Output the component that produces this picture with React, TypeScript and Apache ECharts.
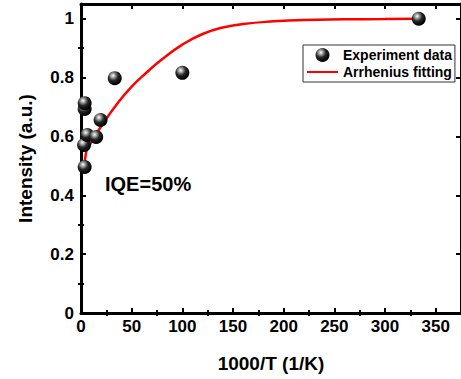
import React, { useEffect, useRef } from "react";
import * as echarts from "echarts";

const expX = [3.6, 3, 6.2, 3.6, 3.6, 15, 19.3, 33.3, 100, 333.3];
const expY = [0.496, 0.571, 0.605, 0.693, 0.713, 0.598, 0.656, 0.798, 0.816, 1.0];

const fitX = [3.4, 5, 10, 20, 35, 50, 65, 80, 100, 120, 140, 160, 190, 220, 260, 300, 333.3];
const fitY = [0.49, 0.545, 0.58, 0.635, 0.708, 0.769, 0.818, 0.862, 0.912, 0.948, 0.97, 0.982, 0.991, 0.996, 0.998, 0.999, 1.0];

const xMajor = [0, 50, 100, 150, 200, 250, 300, 350];
const xMinor = [25, 75, 125, 175, 225, 275, 325];
const yMajor = [0, 0.2, 0.4, 0.6, 0.8, 1];
const yMinor = [0.1, 0.3, 0.5, 0.7, 0.9];

const X_MAX = 375;
const Y_MAX = 1.05;
const FONT = "'Liberation Sans', Arial, sans-serif";

export default function App() {
  const ref = useRef<HTMLDivElement>(null);
  useEffect(() => {
    document.body.style.margin = "0";
    const chart = echarts.init(ref.current!, null, { renderer: "svg" });
    const rect = { left: 81, top: 4, width: 382.5, height: 309 };
    const axisLine = { show: true, onZero: false, lineStyle: { color: "#000", width: 3 } };
    const mkX = (grid: number, pos: string, ticks: number[], len: number, labels: boolean, line: boolean, name?: string) => ({
      type: "value",
      gridIndex: grid,
      position: pos,
      min: 0,
      max: X_MAX,
      axisLine: line ? axisLine : { show: false },
      splitLine: { show: false },
      axisTick: { show: true, inside: true, length: len, customValues: ticks, lineStyle: { color: "#000", width: 2 } },
      axisLabel: labels
        ? { show: true, customValues: ticks, margin: 5, color: "#000", fontSize: 17, fontWeight: "bold", fontFamily: FONT }
        : { show: false },
      name: name,
      nameLocation: "middle",
      nameGap: 41,
      nameTextStyle: { color: "#000", fontSize: 19, fontWeight: "bold", fontFamily: FONT },
    });
    const mkY = (grid: number, pos: string, ticks: number[], len: number, labels: boolean, line: boolean, name?: string) => ({
      type: "value",
      gridIndex: grid,
      position: pos,
      min: 0,
      max: Y_MAX,
      axisLine: line ? axisLine : { show: false },
      splitLine: { show: false },
      axisTick: { show: true, inside: true, length: len, customValues: ticks, lineStyle: { color: "#000", width: 2 } },
      axisLabel: labels
        ? {
            show: true,
            customValues: ticks,
            margin: 7,
            color: "#000",
            fontSize: 17,
            fontWeight: "bold",
            fontFamily: FONT,
            formatter: (v: number) => (v === 0 ? "0" : v === 1 ? "1" : v.toFixed(1)),
          }
        : { show: false },
      name: name,
      nameLocation: "middle",
      nameGap: 46,
      nameRotate: 90,
      nameTextStyle: { color: "#000", fontSize: 19, fontWeight: "bold", fontFamily: FONT },
    });
    const sphere = new echarts.graphic.RadialGradient(0.38, 0.32, 0.65, [
      { offset: 0, color: "#ffffff" },
      { offset: 0.22, color: "#a8a8a8" },
      { offset: 0.55, color: "#282828" },
      { offset: 1, color: "#000000" },
    ]);
    chart.setOption({
      animation: false,
      backgroundColor: "#fff",
      grid: [
        { ...rect, containLabel: false },
        { ...rect, containLabel: false },
      ],
      xAxis: [
        mkX(0, "bottom", xMajor, 5, true, true, "1000/T (1/K)"),
        mkX(0, "top", xMajor, 5, false, true),
        mkX(1, "bottom", xMinor, 3, false, false),
        mkX(1, "top", xMinor, 3, false, false),
      ],
      yAxis: [
        mkY(0, "left", yMajor, 5, true, true, "Intensity (a.u.)"),
        mkY(0, "right", yMajor, 5, false, true),
        mkY(1, "left", yMinor, 3, false, false),
        mkY(1, "right", yMinor, 3, false, false),
      ],
      legend: {
        left: 303,
        top: 45,
        orient: "vertical",
        padding: [3, 3, 3, 3],
        itemGap: 3,
        itemWidth: 31,
        itemHeight: 14,
        borderColor: "#333",
        borderWidth: 1,
        borderRadius: 0,
        textStyle: { color: "#000", fontSize: 14, fontWeight: "bold", fontFamily: FONT },
        data: [
          { name: "Experiment data" },
          { name: "Arrhenius fitting", itemStyle: { color: "rgba(0,0,0,0)", borderWidth: 0, opacity: 0 } },
        ],
      },
      graphic: [
        {
          type: "text",
          left: 105,
          top: 174,
          style: { text: "IQE=50%", fill: "#000", fontSize: 20, fontWeight: "bold", fontFamily: FONT },
        },
      ],
      series: [
        {
          name: "Arrhenius fitting",
          type: "line",
          xAxisIndex: 0,
          yAxisIndex: 0,
          data: fitX.map((x, i) => [x, fitY[i]]),
          smooth: 0.5,
          symbol: "none",
          showSymbol: false,
          lineStyle: { color: "#ff0000", width: 2.5 },
          itemStyle: { color: "#ff0000" },
          z: 2,
        },
        {
          name: "Experiment data",
          type: "scatter",
          xAxisIndex: 0,
          yAxisIndex: 0,
          data: expX.map((x, i) => [x, expY[i]]),
          symbol: "circle",
          symbolSize: 14,
          itemStyle: { color: sphere, opacity: 1 },
          z: 3,
        },
      ],
    });
    return () => chart.dispose();
  }, []);
  return <div ref={ref} style={{ width: 461, height: 379 }} />;
}
